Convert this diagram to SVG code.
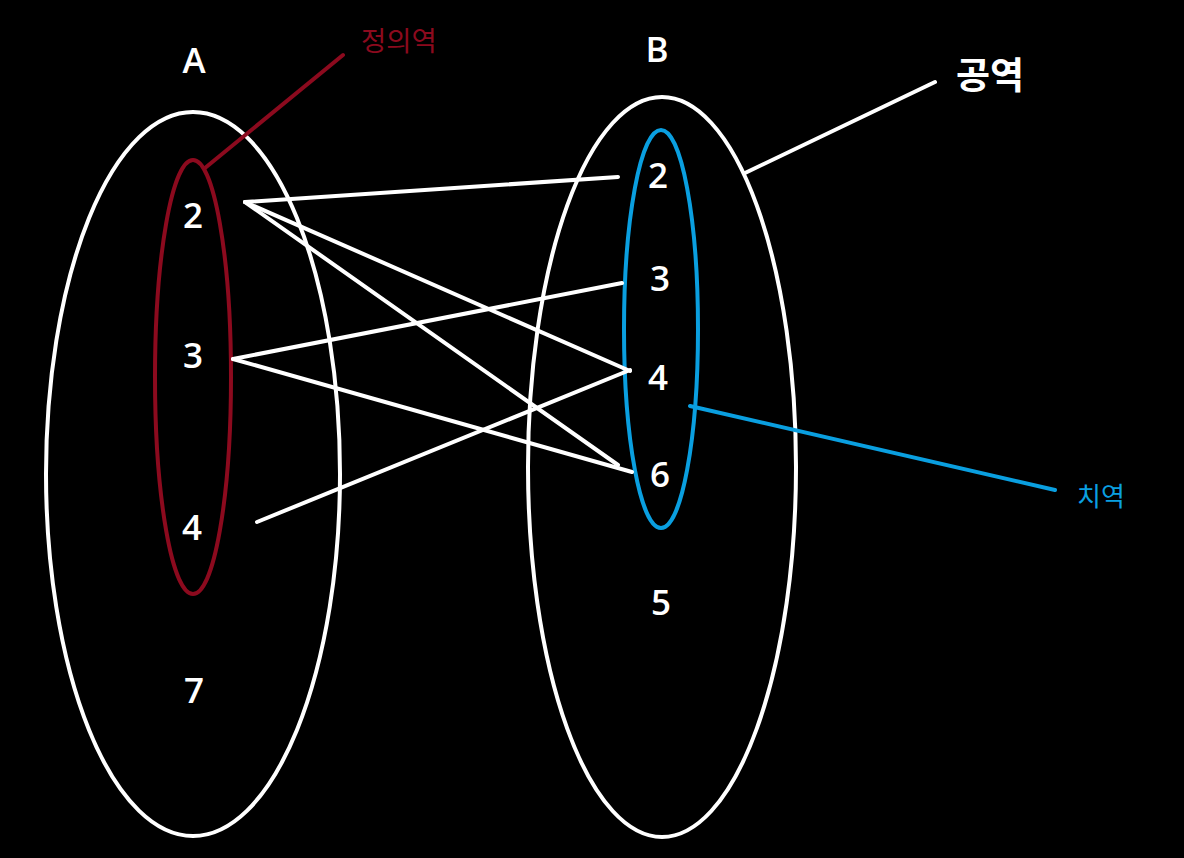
<svg xmlns="http://www.w3.org/2000/svg" width="1184" height="858" viewBox="0 0 1184 858">
<style>
.set{fill:none;stroke:#ffffff;stroke-width:4}
.dom{fill:none;stroke:#8c0a1e;stroke-width:4}
.rng{fill:none;stroke:#0a9fe0;stroke-width:4}
.num{font-family:"Open Sans","Liberation Sans",sans-serif;font-weight:600;font-size:35px;fill:#ffffff;text-anchor:middle}
.ko{font-family:"Noto Sans CJK KR",sans-serif}
</style>
<rect width="1184" height="858" fill="#000000"/>
<g id="setA">
<ellipse class="set" cx="193" cy="474" rx="147" ry="362"/>
<text class="num" x="194" y="73">A</text>
</g>
<g id="domain">
<ellipse class="dom" cx="193" cy="377" rx="38" ry="217"/>
</g>
<g id="setB">
<ellipse class="set" cx="662" cy="467" rx="134" ry="370"/>
<text class="num" x="657" y="62">B</text>
</g>
<g id="range">
<ellipse class="rng" cx="661" cy="329" rx="37" ry="199"/>
</g>
<g id="a2"><text class="num" x="193" y="228">2</text></g>
<g id="a3"><text class="num" x="193" y="368">3</text></g>
<g id="a4"><text class="num" x="192" y="540">4</text></g>
<g id="a7"><text class="num" x="194" y="703">7</text></g>
<g id="b2"><text class="num" x="658" y="188">2</text></g>
<g id="b3"><text class="num" x="660" y="291">3</text></g>
<g id="b4"><text class="num" x="658" y="390">4</text></g>
<g id="b6"><text class="num" x="660" y="487">6</text></g>
<g id="b5"><text class="num" x="661" y="615">5</text></g>
<g id="label-domain"><text class="ko" x="361" y="51" font-size="27.5" fill="#8c0a1e">정의역</text></g>
<g id="label-codomain"><text class="ko" x="956" y="89" font-size="37" font-weight="700" fill="#ffffff">공역</text></g>
<g id="label-range"><text class="ko" x="1077" y="506" font-size="26" fill="#0a9fe0">치역</text></g>
<g id="connectors" stroke-width="4" stroke-linecap="round" fill="none">
<g stroke="#ffffff">
<line x1="245" y1="202" x2="618" y2="177"/>
<line x1="245" y1="202" x2="630" y2="371"/>
<line x1="245" y1="202" x2="618" y2="465"/>
<line x1="233" y1="359" x2="622" y2="283"/>
<line x1="233" y1="359" x2="632" y2="472"/>
<line x1="257" y1="522" x2="630" y2="370"/>
<line x1="745" y1="173" x2="935" y2="82"/>
</g>
<line stroke="#8c0a1e" x1="205" y1="168" x2="343" y2="55"/>
<line stroke="#0a9fe0" x1="690" y1="406" x2="1055" y2="490"/>
</g>
</svg>
